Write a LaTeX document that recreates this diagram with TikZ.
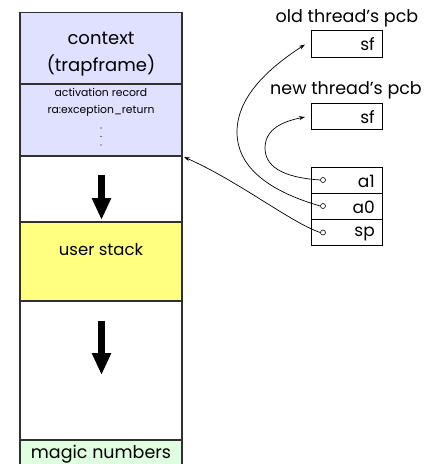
\documentclass[tikz,border=0pt]{standalone}
\usepackage{fontspec}
\setmainfont{Poppins}
\usetikzlibrary{arrows.meta,calc}
\definecolor{ctxblue}{HTML}{E0E0FF}
\definecolor{stackyellow}{HTML}{FFFF80}
\definecolor{magicgreen}{HTML}{E0FFE0}
\definecolor{edge}{HTML}{303030}
\tikzset{
  seg/.style={draw=edge, line width=1.2pt, minimum width=162pt, inner sep=0pt,
              outer sep=0pt, anchor=north west},
  regbox/.style={draw=black, line width=0.8pt, minimum width=71pt, minimum height=26pt,
              inner sep=0pt, outer sep=0pt, anchor=north west},
  regtext/.style={anchor=east, inner sep=0pt, font=\fontsize{17}{18}\selectfont},
  regpin/.style={circle, draw=black, fill=white, line width=0.6pt, minimum size=5pt,
              inner sep=0pt},
  growarrow/.style={line width=6.5pt, -{Triangle[width=18pt,length=22pt]}},
  ptr/.style={line width=0.7pt, -{Stealth[length=6pt,width=4pt]}},
  pcbtitle/.style={font=\fontsize{17.5}{19}\selectfont, inner sep=0pt}
}
\begin{document}
\begin{tikzpicture}[x=1pt,y=-1pt]
\useasboundingbox[fill=white] (0,0) rectangle (425,464);

% the stack column, top to bottom
\node[seg, fill=ctxblue, minimum height=71.5pt] (ctx) at (20,12.5) {};
\node[seg, fill=ctxblue, minimum height=72pt] (act) at (20,84) {};
\node[seg, fill=white, minimum height=66pt] (gapA) at (20,156) {};
\node[seg, fill=stackyellow, minimum height=79pt] (ustack) at (20,222) {};
\node[seg, fill=white, minimum height=139pt] (gapB) at (20,301) {};
\node[seg, fill=magicgreen, minimum height=30pt] (magic) at (20,440) {};

\node[align=center, font=\fontsize{18}{27}\selectfont, inner sep=0pt] (ctxtext) at (101,54.5)
  {context\\(trapframe)};
\node[align=center, font=\fontsize{10.8}{17}\selectfont, inner sep=0pt] (acttext) at (101,102.5)
  {activation record\\ra:exception\_return};
\foreach \yy in {128,136.5,145} \fill (101,\yy) circle (0.7pt);
\node[font=\fontsize{16.5}{18}\selectfont, inner sep=0pt] (ustext) at (101,249) {user stack};
\node[font=\fontsize{17.5}{18}\selectfont, inner sep=0pt] (magictext) at (101,454) {magic numbers};

% direction of growth
\coordinate (g1a) at (101.5,175);
\coordinate (g1b) at (101.5,220);
\coordinate (g2a) at (101.5,321);
\coordinate (g2b) at (101.5,375);
\draw[growarrow] (g1a) -- (g1b);
\draw[growarrow] (g2a) -- (g2b);

% pcbs
\node[pcbtitle] (oldlbl) at (347,18) {old thread’s pcb};
\node[regbox, minimum height=27pt] (oldsf) at (311,30) {};
\node[regtext] at ($(oldsf.east)+(-7,1)$) {sf};
\node[pcbtitle] (newlbl) at (346,90) {new thread’s pcb};
\node[regbox, minimum height=26pt] (newsf) at (311,103) {};
\node[regtext] at ($(newsf.east)+(-7,1)$) {sf};

% saved registers
\node[regbox] (ra1) at (311,167) {};
\node[regbox] (ra0) at (311,193) {};
\node[regbox] (rsp) at (311,219.5) {};
\node[regtext] at ($(ra1.east)+(-7,1)$) {a1};
\node[regtext] at ($(ra0.east)+(-7,1)$) {a0};
\node[regtext] at ($(rsp.east)+(-7,1)$) {sp};
\node[regpin] (p1) at ($(ra1.west)+(12,0)$) {};
\node[regpin] (p0) at ($(ra0.west)+(12,0)$) {};
\node[regpin] (ps) at ($(rsp.west)+(12,0)$) {};

% pointers
\draw[ptr] (ps.west) .. controls (290,222) and (240,182) .. ($(gapA.north east)+(2,1)$);
\draw[ptr] (p0.west) .. controls (265,190) and (237,165) .. (237,132)
  .. controls (237,95) and (272,66) .. ($(oldsf.west)+(-6,1)$);
\draw[ptr] (p1.west) .. controls (290,178) and (265,170) .. (265,148)
  .. controls (265,128) and (285,121) .. ($(newsf.west)+(-6,1)$);
\end{tikzpicture}
\end{document}
